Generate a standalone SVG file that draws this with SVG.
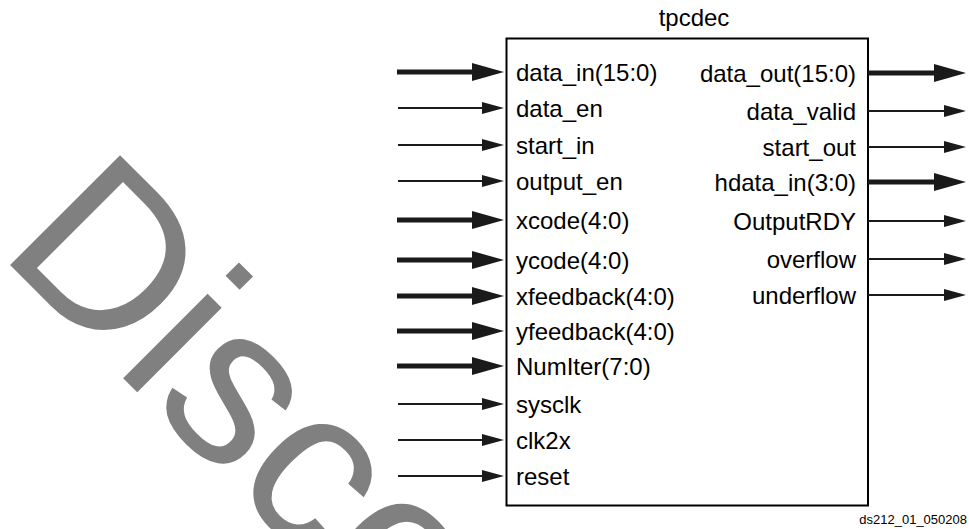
<svg xmlns="http://www.w3.org/2000/svg" width="969" height="529" viewBox="0 0 969 529">
<defs>
<style>
.lbl{font-family:"Liberation Sans",Arial,Helvetica,sans-serif;font-size:24px;fill:#000}
.r{text-anchor:end}
.wm{font-family:"Liberation Sans",Arial,sans-serif;font-size:226px;fill:#808080}
.bus{stroke:#1a1a1a;stroke-width:5;fill:none;marker-end:url(#hb)}
.sig{stroke:#1a1a1a;stroke-width:2;fill:none;marker-end:url(#hs)}
</style>
<marker id="hb" markerUnits="userSpaceOnUse" viewBox="0 0 32 18" markerWidth="32" markerHeight="18" refX="1" refY="9" orient="auto">
<path d="M0,0 L32,9 L0,18 z" fill="#1a1a1a"/>
</marker>
<marker id="hs" markerUnits="userSpaceOnUse" viewBox="0 0 22 12" markerWidth="22" markerHeight="12" refX="1" refY="6" orient="auto">
<path d="M0,0 L22,6 L0,12 z" fill="#1a1a1a"/>
</marker>
</defs>
<rect width="969" height="529" fill="#fff"/>
<text class="wm" transform="translate(-3,252) rotate(45)">Disco</text>
<g id="tpcdec">
<rect x="506.5" y="38.5" width="361.5" height="467" fill="#fff" stroke="#000" stroke-width="2"/>
<text class="lbl" x="694" y="26" text-anchor="middle">tpcdec</text>
<text class="lbl" x="516" y="80.5">data_in(15:0)</text>
<text class="lbl" x="516" y="116.5">data_en</text>
<text class="lbl" x="516" y="153.5">start_in</text>
<text class="lbl" x="516" y="189.5">output_en</text>
<text class="lbl" x="516" y="228.5">xcode(4:0)</text>
<text class="lbl" x="516" y="268.5">ycode(4:0)</text>
<text class="lbl" x="516" y="304.5">xfeedback(4:0)</text>
<text class="lbl" x="516" y="339.5">yfeedback(4:0)</text>
<text class="lbl" x="516" y="374.5">NumIter(7:0)</text>
<text class="lbl" x="516" y="412.5">sysclk</text>
<text class="lbl" x="516" y="448.5">clk2x</text>
<text class="lbl" x="516" y="484.5">reset</text>
<text class="lbl r" x="856" y="81.5">data_out(15:0)</text>
<text class="lbl r" x="856" y="119.5">data_valid</text>
<text class="lbl r" x="856" y="155.5">start_out</text>
<text class="lbl r" x="856" y="190.5">hdata_in(3:0)</text>
<text class="lbl r" x="856" y="229.5">OutputRDY</text>
<text class="lbl r" x="856" y="267.5">overflow</text>
<text class="lbl r" x="856" y="303.5">underflow</text>
</g>
<g id="connectors">
<line class="bus" x1="397" y1="72" x2="473" y2="72"/>
<line class="sig" x1="398" y1="108" x2="483" y2="108"/>
<line class="sig" x1="398" y1="145" x2="483" y2="145"/>
<line class="sig" x1="398" y1="181" x2="483" y2="181"/>
<line class="bus" x1="397" y1="220" x2="473" y2="220"/>
<line class="bus" x1="397" y1="260" x2="473" y2="260"/>
<line class="bus" x1="397" y1="296" x2="473" y2="296"/>
<line class="bus" x1="397" y1="331" x2="473" y2="331"/>
<line class="bus" x1="397" y1="366" x2="473" y2="366"/>
<line class="sig" x1="398" y1="404" x2="483" y2="404"/>
<line class="sig" x1="398" y1="440" x2="483" y2="440"/>
<line class="sig" x1="398" y1="476" x2="483" y2="476"/>
<line class="bus" x1="868" y1="73" x2="935" y2="73"/>
<line class="sig" x1="868" y1="111" x2="945" y2="111"/>
<line class="sig" x1="868" y1="147" x2="945" y2="147"/>
<line class="bus" x1="868" y1="182" x2="935" y2="182"/>
<line class="sig" x1="868" y1="221" x2="945" y2="221"/>
<line class="sig" x1="868" y1="259" x2="945" y2="259"/>
<line class="sig" x1="868" y1="295" x2="945" y2="295"/>
</g>
<text class="lbl" x="967" y="524" text-anchor="end" style="font-size:13px">ds212_01_050208</text>
</svg>
